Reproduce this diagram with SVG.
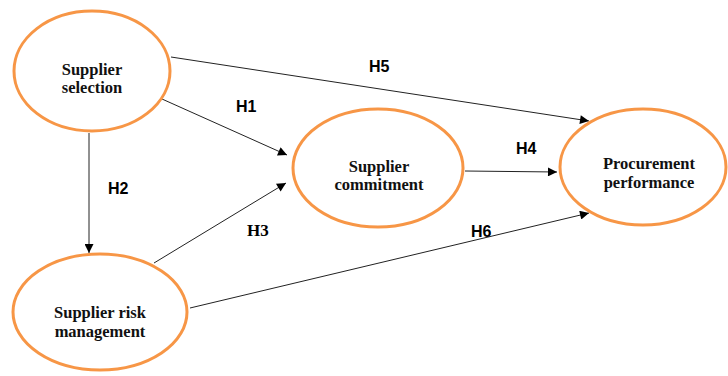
<svg xmlns="http://www.w3.org/2000/svg" width="728" height="376" viewBox="0 0 728 376">
<style>
.node{fill:#fff;stroke:#F79646;stroke-width:3}
.nt{font-family:"Liberation Serif",serif;font-weight:bold;font-size:16.5px;fill:#111;text-anchor:middle}
.lbl{font-family:"Liberation Sans",Arial,sans-serif;font-weight:bold;font-size:16px;fill:#000}
.lbls{font-family:"Liberation Serif",serif;font-weight:bold;font-size:17px;fill:#000}
.c{stroke:#222;stroke-width:1;fill:none;marker-end:url(#ah)}
</style>
<defs>
<marker id="ah" viewBox="0 0 10 10" refX="10" refY="5" markerWidth="11" markerHeight="9" markerUnits="userSpaceOnUse" orient="auto">
<path d="M0,0 L10,5 L0,10 z" fill="#000"/>
</marker>
</defs>
<rect width="728" height="376" fill="#fff"/>
<g id="connectors">
<line class="c" x1="171" y1="57" x2="589" y2="121"/>
<line class="c" x1="162" y1="99" x2="287" y2="155"/>
<line class="c" x1="89" y1="133" x2="89" y2="253"/>
<line class="c" x1="154" y1="263" x2="286" y2="183"/>
<line class="c" x1="465" y1="171" x2="557" y2="172"/>
<line class="c" x1="190" y1="308" x2="589" y2="213"/>
</g>
<g id="labels">
<text class="lbl" x="369" y="72">H5</text>
<text class="lbl" x="236" y="112">H1</text>
<text class="lbl" x="108" y="194">H2</text>
<text class="lbls" x="247" y="236">H3</text>
<text class="lbl" x="516" y="154">H4</text>
<text class="lbl" x="471" y="237">H6</text>
</g>
<g id="supplier-selection">
<ellipse class="node" cx="92" cy="71" rx="78" ry="60"/>
<text class="nt" x="92" y="75">Supplier</text>
<text class="nt" x="92" y="93">selection</text>
</g>
<g id="supplier-commitment">
<ellipse class="node" cx="378" cy="168" rx="85" ry="59"/>
<text class="nt" x="379" y="172">Supplier</text>
<text class="nt" x="379" y="190">commitment</text>
</g>
<g id="procurement-performance">
<ellipse class="node" cx="643" cy="167" rx="83" ry="58"/>
<text class="nt" x="649" y="169">Procurement</text>
<text class="nt" x="649" y="188">performance</text>
</g>
<g id="supplier-risk-management">
<ellipse class="node" cx="100" cy="312" rx="87" ry="58"/>
<text class="nt" x="100" y="318">Supplier risk</text>
<text class="nt" x="100" y="337">management</text>
</g>
</svg>
